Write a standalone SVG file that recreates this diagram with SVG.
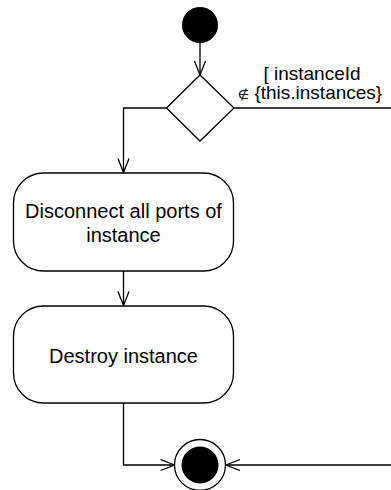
<svg xmlns="http://www.w3.org/2000/svg" width="391" height="490" viewBox="0 0 391 490">
<defs>
<style>
.ln{fill:none;stroke:#000;stroke-width:1.3}
.box{fill:#fff;stroke:#000;stroke-width:1.3}
.t{font-family:"Liberation Sans",Arial,sans-serif;font-size:20px;fill:#000;text-anchor:middle}
.lbl{font-size:19px}
.sym{font-family:"DejaVu Sans",sans-serif;font-size:13px}
</style>
<marker id="arr" markerUnits="userSpaceOnUse" markerWidth="18" markerHeight="14" refX="15" refY="6" orient="auto">
<path d="M1,0.5 L15,6 L1,11.5" fill="none" stroke="#000" stroke-width="1.3"/>
</marker>
</defs>
<rect width="391" height="490" fill="#fff"/>
<g id="connectors">
<path class="ln" d="M200,43 L200,75" marker-end="url(#arr)"/>
<path class="ln" d="M166.5,108 L123.5,108 L123.5,172.5" marker-end="url(#arr)"/>
<path class="ln" d="M234,108 L400,108 L400,465 L226,465" marker-end="url(#arr)"/>
<path class="ln" d="M123.5,271 L123.5,305.5" marker-end="url(#arr)"/>
<path class="ln" d="M123.5,403 L123.5,465 L174.5,465" marker-end="url(#arr)"/>
<text class="t lbl" x="312" y="80">[ instanceId</text>
<text class="t lbl" x="310" y="98.5"><tspan class="sym">∉</tspan> {this.instances}</text>
</g>
<g id="start">
<circle cx="200" cy="25" r="18" fill="#000"/>
</g>
<g id="decision">
<path class="box" d="M200,75 L234,108 L200,141 L166.5,108 Z"/>
</g>
<g id="disconnect">
<rect class="box" x="13.5" y="173" width="220" height="98" rx="30" ry="30"/>
<text class="t" x="123.5" y="218">Disconnect all ports of</text>
<text class="t" x="123.5" y="241.5">instance</text>
</g>
<g id="destroy">
<rect class="box" x="13.5" y="306" width="220" height="97" rx="30" ry="30"/>
<text class="t" x="123.5" y="363">Destroy instance</text>
</g>
<g id="end">
<circle cx="200" cy="465" r="25.5" fill="#fff" stroke="#000" stroke-width="1.3"/>
<circle cx="200" cy="465" r="18.5" fill="#000"/>
</g>
</svg>
